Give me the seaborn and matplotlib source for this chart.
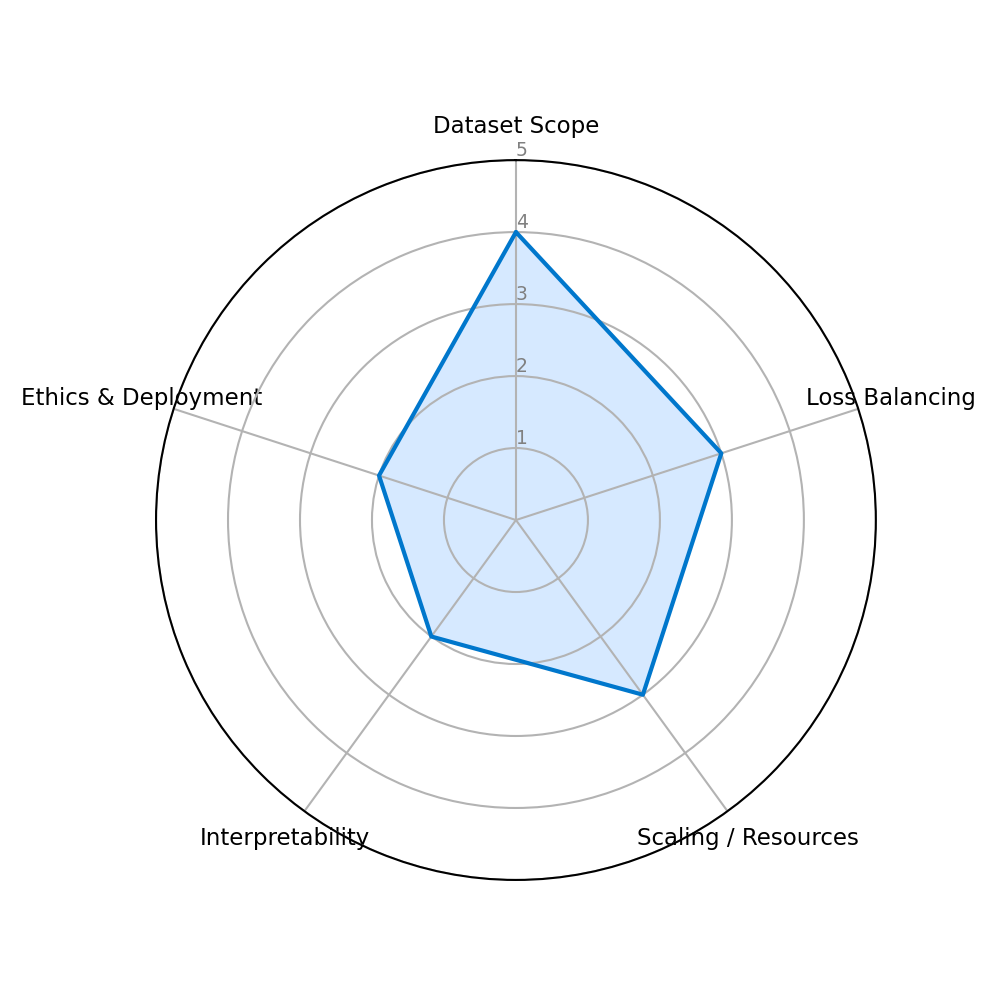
import numpy as np
import matplotlib
matplotlib.use("Agg")
import matplotlib.pyplot as plt
import seaborn as sns

categories = ["Dataset Scope", "Loss Balancing", "Scaling / Resources", "Interpretability", "Ethics & Deployment"]
values = [4, 3, 3, 2, 2]
rticks = [1, 2, 3, 4, 5]
rtick_labels = ["1", "2", "3", "4", "5"]

sns.set_style("white")
plt.rcParams['font.family'] = ['DejaVu Sans']

fig = plt.figure(figsize=(9.97, 9.97), dpi=100)
ax = fig.add_axes([0.1565, 0.1174, 0.722, 0.722], projection="polar")

n = len(categories)
angles = np.linspace(0, 2 * np.pi, n, endpoint=False).tolist()
vals = values + values[:1]
angs = angles + angles[:1]

ax.set_theta_offset(np.pi / 2)
ax.set_theta_direction(-1)

ax.set_axisbelow("line")
ax.fill(angs, vals, color="#d6e9ff", alpha=1.0, zorder=1)
ax.plot(angs, vals, color="#0077cc", linewidth=3, zorder=3)

ax.set_ylim(0, 5)
ax.set_yticks(rticks)
ax.set_yticklabels(rtick_labels, color="#808080", fontsize=13.5)
ax.set_rlabel_position(0)
ax.set_xticks(angles)
ax.set_xticklabels(categories, fontsize=16.5, color="black")
ax.tick_params(axis="x", pad=14)
ax.grid(True, color="#b3b3b3", linewidth=1.5)
ax.spines["polar"].set_color("black")
ax.spines["polar"].set_linewidth(1.5)
ax.set_facecolor("white")

fig.savefig("out.png", dpi=100)
